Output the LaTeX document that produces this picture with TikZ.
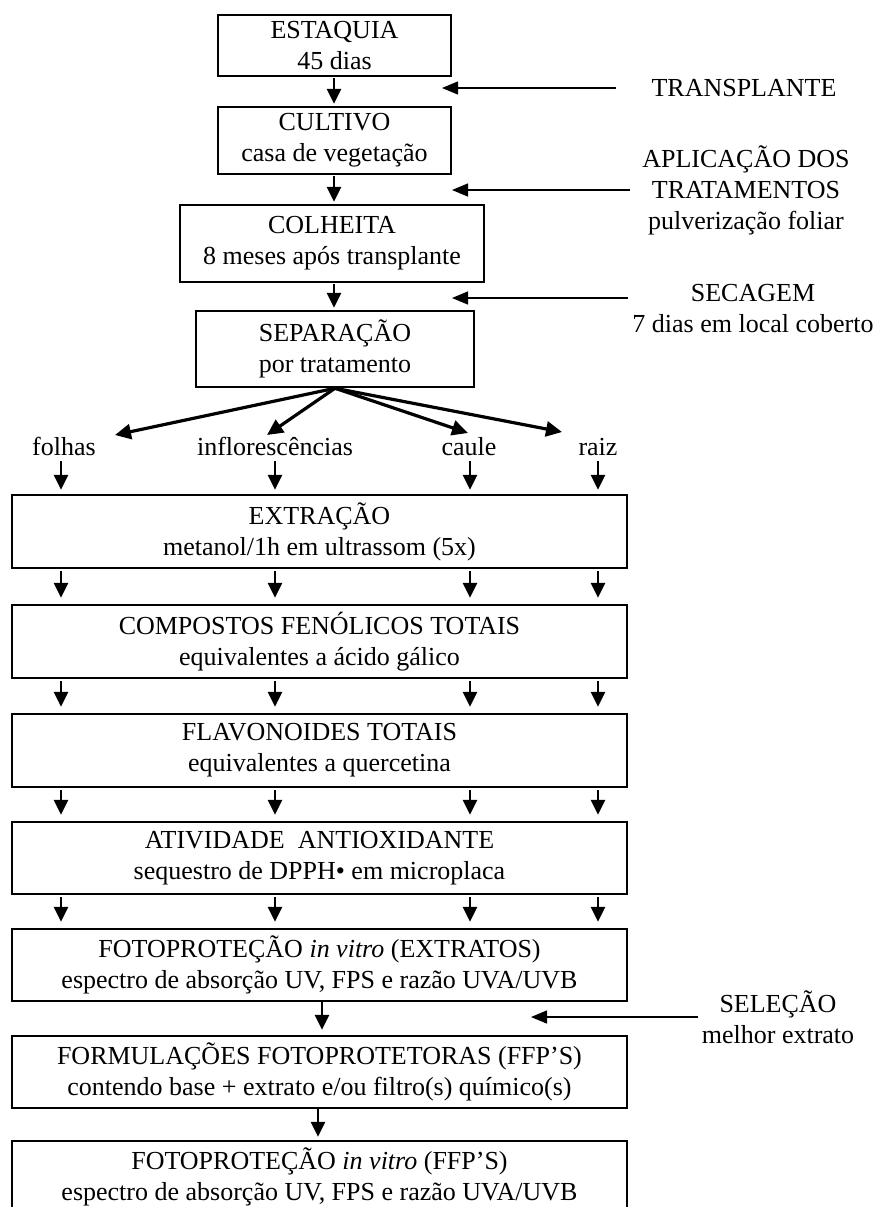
\documentclass[tikz,border=0pt]{standalone}
\usepackage{fontspec}
\setmainfont{Liberation Serif}
\usetikzlibrary{shapes,arrows.meta,positioning,calc}

\begin{document}
\begin{tikzpicture}[x=1pt, y=-1pt,
    every node/.style={font=\fontsize{26}{31}\selectfont, inner sep=0pt},
    etapa/.style={draw, line width=2.5pt, align=center},
    larga/.style={etapa, minimum width=615pt, minimum height=72pt},
    parte/.style={text height=18pt, text depth=6pt},
    lateral/.style={align=center},
    fluxo/.style={line width=2.8pt, -{Triangle[width=14pt,length=15pt]}},
    ramo/.style={line width=3.2pt, -{Triangle[width=15pt,length=16pt]}},
    seta/.style={line width=1.4pt, -{Triangle[width=13pt,length=16pt]}}]
    \useasboundingbox (0,0) rectangle (876,1207);
    % steps before the split
    \node[etapa, minimum width=233pt, minimum height=61pt] (estaquia) at (334.5,45.5) {ESTAQUIA\\45 dias};
    \node[etapa, minimum width=233pt, minimum height=67pt] (cultivo) at (334.5,140.5) {CULTIVO\\casa de vegetação};
    \node[etapa, minimum width=304pt, minimum height=77pt] (colheita) at (332,243.5) {COLHEITA\\8 meses após transplante};
    \node[etapa, minimum width=278pt, minimum height=76pt] (separacao) at (335,349) {SEPARAÇÃO\\por tratamento};
    % plant parts
    \node[parte] (folhas) at (64,449) {folhas};
    \node[parte] (inflor) at (275,449) {inflorescências};
    \node[parte] (caule) at (469,449) {caule};
    \node[parte] (raiz) at (598,449) {raiz};
    % wide steps
    \node[larga, minimum height=73pt] (extracao) at (319.5,531.5) {EXTRAÇÃO\\metanol/1h em ultrassom (5x)};
    \node[larga, minimum height=73pt] (compostos) at (319.5,641.5) {COMPOSTOS FENÓLICOS TOTAIS\\equivalentes a ácido gálico};
    \node[larga, minimum height=73pt] (flavonoides) at (319.5,750.5) {FLAVONOIDES TOTAIS\\equivalentes a quercetina};
    \node[larga] (atividade) at (319.5,858) {ATIVIDADE\ \ ANTIOXIDANTE\\sequestro de DPPH• em microplaca};
    \node[larga] (fotoext) at (319.5,965) {FOTOPROTEÇÃO \textit{in vitro} (EXTRATOS)\\espectro de absorção UV, FPS e razão UVA/UVB};
    \node[larga] (formul) at (319.5,1072) {FORMULAÇÕES FOTOPROTETORAS (FFP’S)\\contendo base + extrato e/ou filtro(s) químico(s)};
    \node[larga] (fotoffp) at (319.5,1177) {FOTOPROTEÇÃO \textit{in vitro} (FFP’S)\\espectro de absorção UV, FPS e razão UVA/UVB};
    % side notes
    \node[lateral] (transp) at (744,88) {TRANSPLANTE};
    \node[lateral] (aplic) at (746,190) {APLICAÇÃO DOS\\TRATAMENTOS\\pulverização foliar};
    \node[lateral] (secagem) at (753,309) {SECAGEM\\7 dias em local coberto};
    \node[lateral] (selecao) at (778,1017) {SELEÇÃO\\melhor extrato};
    % columns and tips
    \coordinate (c0) at (334,0);
    \coordinate (c1) at (61,0);
    \coordinate (c2) at (275,0);
    \coordinate (c3) at (470,0);
    \coordinate (c4) at (598,0);
    \coordinate (tf) at (115,435);
    \coordinate (ti) at (267,435);
    \coordinate (tc) at (468,433);
    \coordinate (tr) at (562,432);
    % main column arrows
    \foreach \de/\para in {estaquia/cultivo, cultivo/colheita, colheita/separacao}
        \draw[fluxo, shorten <=1pt, shorten >=2pt] (\de.south -| c0) -- (\para.north -| c0);
    \foreach \t in {tf, ti, tc, tr}
        \draw[ramo] (separacao.south) -- (\t);
    \foreach \p/\c in {folhas/c1, inflor/c2, caule/c3, raiz/c4}
        \draw[fluxo, shorten >=4pt] (\p.south -| \c) -- (extracao.north -| \c);
    \foreach \de/\para in {extracao/compostos, compostos/flavonoides, flavonoides/atividade, atividade/fotoext} {
        \foreach \c in {c1,c2,c3,c4}
            \draw[fluxo, shorten <=2pt, shorten >=6pt] (\de.south -| \c) -- (\para.north -| \c);
    }
    \draw[fluxo, shorten >=5pt] ([xshift=2.5pt]fotoext.south) -- ([xshift=2.5pt]formul.north);
    \draw[fluxo, shorten >=3pt] ([xshift=-1.5pt]formul.south) -- ([xshift=-1.5pt]fotoffp.north);
    % side arrows
    \draw[seta, shorten <=35pt] (transp.west) -- (transp.west -| 442,0);
    \draw[seta, shorten <=12pt] (aplic.west) -- (aplic.west -| 452,0);
    \draw[seta] ([xshift=-4pt,yshift=11pt]secagem.west) -- ([yshift=11pt]secagem.west -| 452,0);
    \draw[seta, shorten <=4pt] (selecao.west) -- (selecao.west -| 531,0);
\end{tikzpicture}
\end{document}
